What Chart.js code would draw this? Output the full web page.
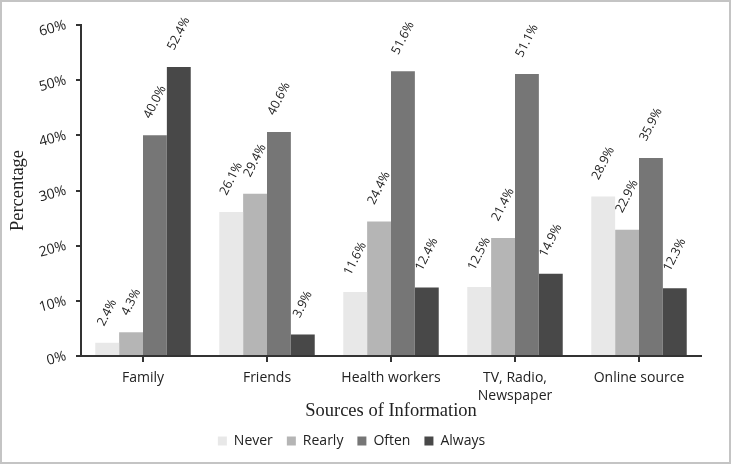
<!DOCTYPE html>
<html>

<head>
  <title>Sources of Information</title>
  <script src="https://cdn.jsdelivr.net/npm/chart.js"></script>
  <style>
    body { margin: 0; background: #fff; }
    #wrap { width: 731px; height: 464px; border: 2px solid #c4c4c4; box-sizing: border-box; }
  </style>
</head>

<body>
  <div id="wrap"><canvas id="srcChart" width="727" height="460"></canvas></div>
  <script>
    const categories = ['Family', 'Friends', 'Health workers', ['TV, Radio,', 'Newspaper'], 'Online source'];
    const never = [2.4, 26.1, 11.6, 12.5, 28.9];
    const rearly = [4.3, 29.4, 24.4, 21.4, 22.9];
    const often = [40.0, 40.6, 51.6, 51.1, 35.9];
    const always = [52.4, 3.9, 12.4, 14.9, 12.3];

    // rotated value labels above each bar
    const valueLabels = {
      id: 'valueLabels',
      afterDatasetsDraw(chart) {
        const ctx = chart.ctx;
        const ang = 63 * Math.PI / 180;
        ctx.save();
        ctx.font = '12.5px "Open Sans"';
        ctx.fillStyle = '#222';
        ctx.textAlign = 'center';
        ctx.textBaseline = 'middle';
        chart.data.datasets.forEach((ds, i) => {
          chart.getDatasetMeta(i).data.forEach((bar, j) => {
            const txt = ds.data[j].toFixed(1) + '%';
            const w = ctx.measureText(txt).width;
            const boxH = w * Math.sin(ang) + 12 * Math.cos(ang);
            ctx.save();
            ctx.translate(bar.x, bar.y - 15 - boxH / 2);
            ctx.rotate(-ang);
            ctx.fillText(txt, 0, 0);
            ctx.restore();
          });
        });
        ctx.restore();
      }
    };

    const ctx = document.getElementById('srcChart').getContext('2d');
    new Chart(ctx, {
      type: 'bar',
      data: {
        labels: categories,
        datasets: [
          { label: 'Never', data: never, backgroundColor: '#e8e8e8' },
          { label: 'Rearly', data: rearly, backgroundColor: '#b5b5b5' },
          { label: 'Often', data: often, backgroundColor: '#767676' },
          { label: 'Always', data: always, backgroundColor: '#484848' }
        ]
      },
      options: {
        responsive: false,
        animation: false,
        categoryPercentage: 0.77,
        barPercentage: 1,
        layout: { padding: { left: 0, right: 28, top: 23, bottom: 4 } },
        plugins: {
          tooltip: { enabled: false },
          legend: {
            position: 'bottom',
            labels: {
              boxWidth: 9,
              boxHeight: 9,
              padding: 14,
              color: '#222',
              font: { family: 'Open Sans', size: 14 }
            }
          }
        },
        scales: {
          x: {
            grid: { offset: false, drawOnChartArea: false, tickLength: 6, color: '#333', lineWidth: 2 },
            border: { color: '#333', width: 2 },
            ticks: { color: '#222', padding: 7, maxRotation: 0, font: { family: 'Open Sans', size: 14, lineHeight: 1.3 } },
            title: {
              display: true,
              text: 'Sources of Information',
              color: '#222',
              padding: { top: 0, bottom: -2 },
              font: { family: 'Liberation Serif', size: 18.5 }
            },
            afterFit: s => { s.height = 64; }
          },
          y: {
            min: 0,
            max: 60,
            grid: { drawOnChartArea: false, tickLength: 5, color: '#333', lineWidth: 2 },
            border: { color: '#333', width: 2 },
            ticks: {
              stepSize: 10,
              padding: 10,
              minRotation: 15,
              maxRotation: 15,
              color: '#222',
              font: { family: 'Open Sans', size: 14 },
              callback: v => v + '%'
            },
            title: {
              display: true,
              text: 'Percentage',
              color: '#222',
              padding: { top: 5, bottom: 0 },
              font: { family: 'Liberation Serif', size: 18.5 }
            },
            afterFit: s => { s.width = 79; }
          }
        }
      },
      plugins: [valueLabels]
    });
  </script>
</body>

</html>
